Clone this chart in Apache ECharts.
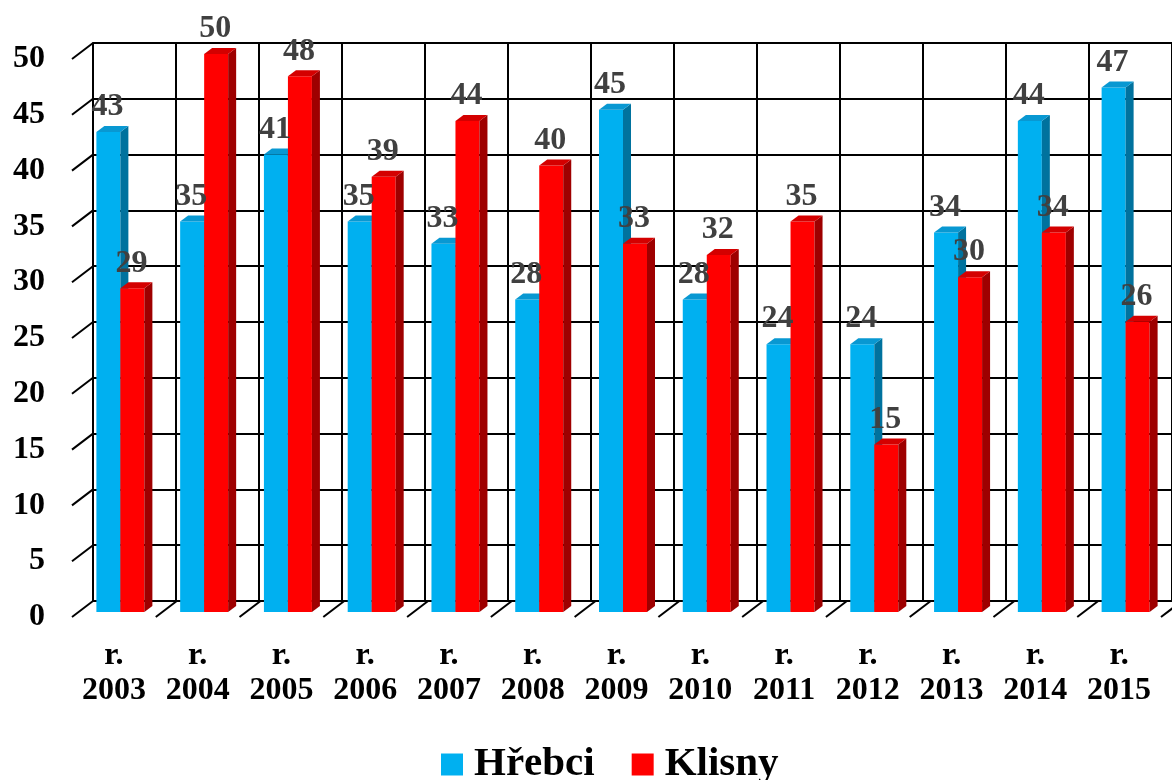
<!DOCTYPE html>
<html>
<head>
<meta charset="utf-8">
<title>Hřebci a klisny</title>
<script src="https://cdn.jsdelivr.net/npm/echarts@6/dist/echarts.min.js"></script>
<style>
    html, body { margin: 0; padding: 0; background: #fff; }
    #chart { width: 1172px; height: 780px; }
</style>
</head>
<body>
<div id="chart"></div>
<script>
// 年份（类目）
const years = ['2003', '2004', '2005', '2006', '2007', '2008', '2009', '2010', '2011', '2012', '2013', '2014', '2015']
// Hřebci
const stallions = [43, 35, 41, 35, 33, 28, 45, 28, 24, 24, 34, 44, 47]
// Klisny
const mares = [29, 50, 48, 39, 44, 40, 33, 32, 35, 15, 30, 34, 26]
// y轴刻度
const yTicks = [0, 5, 10, 15, 20, 25, 30, 35, 40, 45, 50]

const FONT = 'Liberation Serif'
// 伪3D偏移
const WALL_DX = 21
const WALL_DY = -16
const BAR_DX = 8
const BAR_DY = -6
const BAR_W = 24

// 立体柱子
function barRender(slot, colors) {
    return function (params, api) {
        const v = api.value(1)
        const top = api.coord([api.value(0), v])
        const base = api.coord([api.value(0), 0])
        const x = top[0] + (slot - 1) * BAR_W
        const w = BAR_W
        const y = top[1]
        return {
            type: 'group',
            children: [
                { type: 'rect', shape: { x: x, y: y, width: w, height: base[1] - y }, style: { fill: colors[0] } },
                {
                    type: 'polygon',
                    shape: { points: [[x + w, y], [x + w + BAR_DX, y + BAR_DY], [x + w + BAR_DX, base[1] + BAR_DY], [x + w, base[1]]] },
                    style: { fill: colors[1] }
                },
                {
                    type: 'polygon',
                    shape: { points: [[x, y], [x + BAR_DX, y + BAR_DY], [x + w + BAR_DX, y + BAR_DY], [x + w, y]] },
                    style: { fill: colors[2] }
                },
                {
                    type: 'text', z2: 100,
                    x: x + w / 2 - 1, y: y - 9,
                    style: { text: String(v), font: 'bold 32px "' + FONT + '"', fill: '#404040', align: 'center', verticalAlign: 'bottom' }
                }
            ]
        }
    }
}

// 左侧刻度斜线
function wallTickRender(params, api) {
    const p = api.coord([0, api.value(1)])
    const x0 = params.coordSys.x
    return {
        type: 'line',
        shape: { x1: x0, y1: p[1], x2: x0 + WALL_DX, y2: p[1] + WALL_DY },
        style: { stroke: '#000', lineWidth: 2 }
    }
}

// 底面类目分隔斜线
function floorTickRender(params, api) {
    const p = api.coord([api.value(0), 0])
    const x = p[0] + api.size([1, 0])[0] / 2
    return {
        type: 'line',
        shape: { x1: x, y1: p[1], x2: x + WALL_DX, y2: p[1] + WALL_DY },
        style: { stroke: '#000', lineWidth: 2 }
    }
}

const myChart = echarts.init(document.getElementById('chart'))

const option = {
    animation: false,
    backgroundColor: '#fff',
    legend: {
        left: 436, top: 739,
        itemWidth: 22, itemHeight: 22, itemGap: 37, icon: 'rect',
        textStyle: { fontFamily: FONT, fontWeight: 'bold', fontSize: 41, color: '#000', padding: [0, 0, 0, 6] },
        data: [
            { name: 'Hřebci', itemStyle: { color: '#00B0F0' } },
            { name: 'Klisny', itemStyle: { color: '#FF0000' } }
        ]
    },
    grid: [
        // 前面（坐标标签）
        { left: 72, top: 59, width: 1089, height: 558 },
        // 后墙（网格）
        { left: 93, top: 43, width: 1089, height: 558 },
        // 柱子
        { left: 78.5, top: 54, width: 1089, height: 558 }
    ],
    xAxis: [
        {
            type: 'category', gridIndex: 0, data: years,
            axisLine: { show: false }, axisTick: { show: false },
            axisLabel: {
                interval: 0, margin: 21,
                formatter: v => 'r.\n' + v,
                fontFamily: FONT, fontWeight: 'bold', fontSize: 32, lineHeight: 35, color: '#000'
            }
        },
        {
            type: 'category', gridIndex: 1, data: years,
            axisLine: { show: false }, axisTick: { show: false }, axisLabel: { show: false },
            splitLine: { show: true, interval: 0, lineStyle: { color: '#000', width: 2 } }
        },
        {
            type: 'category', gridIndex: 2, data: years,
            axisLine: { show: false }, axisTick: { show: false }, axisLabel: { show: false }
        }
    ],
    yAxis: [
        {
            type: 'value', gridIndex: 0, min: 0, max: 50, interval: 5,
            axisLine: { show: false }, axisTick: { show: false }, splitLine: { show: false },
            axisLabel: { margin: 27, fontFamily: FONT, fontWeight: 'bold', fontSize: 32, color: '#000' }
        },
        {
            type: 'value', gridIndex: 1, min: 0, max: 50, interval: 5,
            axisLine: { show: true, lineStyle: { color: '#000', width: 2 } },
            axisTick: { show: false }, axisLabel: { show: false },
            splitLine: { show: true, lineStyle: { color: '#000', width: 2 } }
        },
        {
            type: 'value', gridIndex: 2, min: 0, max: 50, interval: 5,
            axisLine: { show: false }, axisTick: { show: false }, axisLabel: { show: false }, splitLine: { show: false }
        }
    ],
    series: [
        {
            name: 'wallTicks', type: 'custom', xAxisIndex: 0, yAxisIndex: 0,
            data: yTicks.map(v => [0, v]),
            renderItem: wallTickRender
        },
        {
            name: 'floorTicks', type: 'custom', xAxisIndex: 0, yAxisIndex: 0,
            data: years.map((y, i) => [i, 0]),
            renderItem: floorTickRender
        },
        {
            name: 'Hřebci', type: 'custom', xAxisIndex: 2, yAxisIndex: 2,
            itemStyle: { color: '#00B0F0' },
            data: stallions.map((v, i) => [i, v]),
            renderItem: barRender(0, ['#00B0F0', '#00729E', '#0898D2'])
        },
        {
            name: 'Klisny', type: 'custom', xAxisIndex: 2, yAxisIndex: 2,
            itemStyle: { color: '#FF0000' },
            data: mares.map((v, i) => [i, v]),
            renderItem: barRender(1, ['#FF0000', '#9E0000', '#D40000'])
        }
    ]
}

myChart.setOption(option)
</script>
</body>
</html>
